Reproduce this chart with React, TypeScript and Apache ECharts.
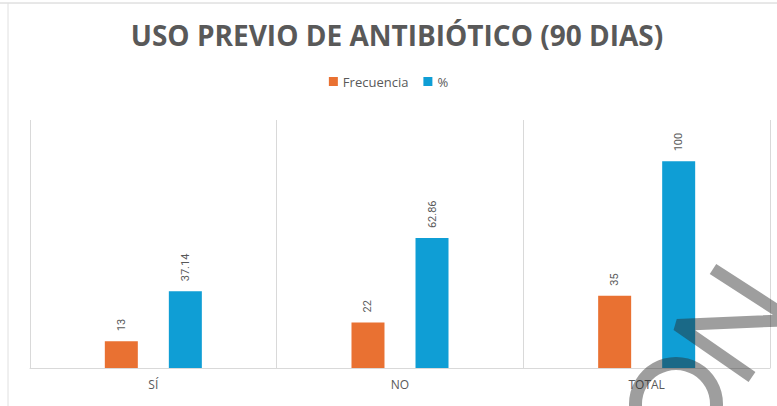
import React, { useEffect, useRef } from "react";
import * as echarts from "echarts";

const categories = ["SÍ", "NO", "TOTAL"];
const frecuencia = [13, 22, 35];
const porcentaje = [37.14, 62.86, 100];
const seriesNames = ["Frecuencia", "%"];
const titleText = "USO PREVIO DE ANTIBIÓTICO (90 DIAS)";

export default function App() {
  const ref = useRef<HTMLDivElement>(null);
  useEffect(() => {
    document.body.style.margin = "0";
    if (!ref.current) return;
    const chart = echarts.init(ref.current, undefined, { renderer: "svg" });
    const labelStyle = {
      show: true,
      position: "top" as const,
      rotate: 90,
      align: "left" as const,
      verticalAlign: "middle" as const,
      distance: 10,
      color: "#595959",
      fontSize: 11,
      fontFamily: "Roboto",
    };
    const wm = "rgba(40,40,40,0.45)";
    chart.setOption({
      animation: false,
      backgroundColor: "#ffffff",
      title: {
        text: titleText,
        left: 392,
        top: 16,
        textAlign: "center",
        textStyle: {
          color: "#595959",
          fontSize: 28,
          fontWeight: "bold",
          fontFamily: "Open Sans",
        },
      },
      legend: {
        data: seriesNames,
        top: 70,
        left: "center",
        itemWidth: 9,
        itemHeight: 9,
        itemGap: 15,
        icon: "rect",
        textStyle: { color: "#595959", fontSize: 13, fontFamily: "Open Sans" },
      },
      grid: { left: 30, right: 7, top: 120, bottom: 38 },
      xAxis: {
        type: "category",
        data: categories,
        boundaryGap: true,
        axisLine: { show: true, lineStyle: { color: "#d9d9d9", width: 1 } },
        axisTick: { show: false },
        splitLine: { show: true, lineStyle: { color: "#d9d9d9", width: 1 } },
        axisLabel: {
          color: "#595959",
          fontSize: 12,
          fontFamily: "Open Sans",
          margin: 10,
        },
      },
      yAxis: {
        type: "value",
        min: 0,
        max: 120,
        show: false,
        splitLine: { show: false },
      },
      series: [
        {
          name: seriesNames[0],
          type: "bar",
          data: frecuencia,
          barWidth: 33,
          barGap: "94%",
          itemStyle: { color: "#E97132" },
          label: labelStyle,
        },
        {
          name: seriesNames[1],
          type: "bar",
          data: porcentaje,
          barWidth: 33,
          barGap: "94%",
          itemStyle: { color: "#0F9ED5" },
          label: labelStyle,
        },
      ],
      graphic: [
        {
          type: "line",
          shape: { x1: 0, y1: 3, x2: 777, y2: 3 },
          style: { stroke: "#d0d0d0", lineWidth: 1 },
          silent: true,
        },
        {
          type: "line",
          shape: { x1: 8, y1: 3, x2: 8, y2: 406 },
          style: { stroke: "#e0e0e0", lineWidth: 1 },
          silent: true,
        },
        {
          type: "ring",
          z: 100,
          silent: true,
          shape: { cx: 676, cy: 404, r: 47, r0: 34 },
          style: { fill: wm },
        },
        {
          type: "polyline",
          z: 100,
          silent: true,
          shape: {
            points: [
              [752, 377],
              [677, 325],
              [792, 320],
              [713, 269],
            ],
          },
          style: { stroke: wm, lineWidth: 12, fill: "none", lineJoin: "bevel" },
        },
      ],
    });
    return () => chart.dispose();
  }, []);
  return <div ref={ref} style={{ width: 777, height: 406 }} />;
}
